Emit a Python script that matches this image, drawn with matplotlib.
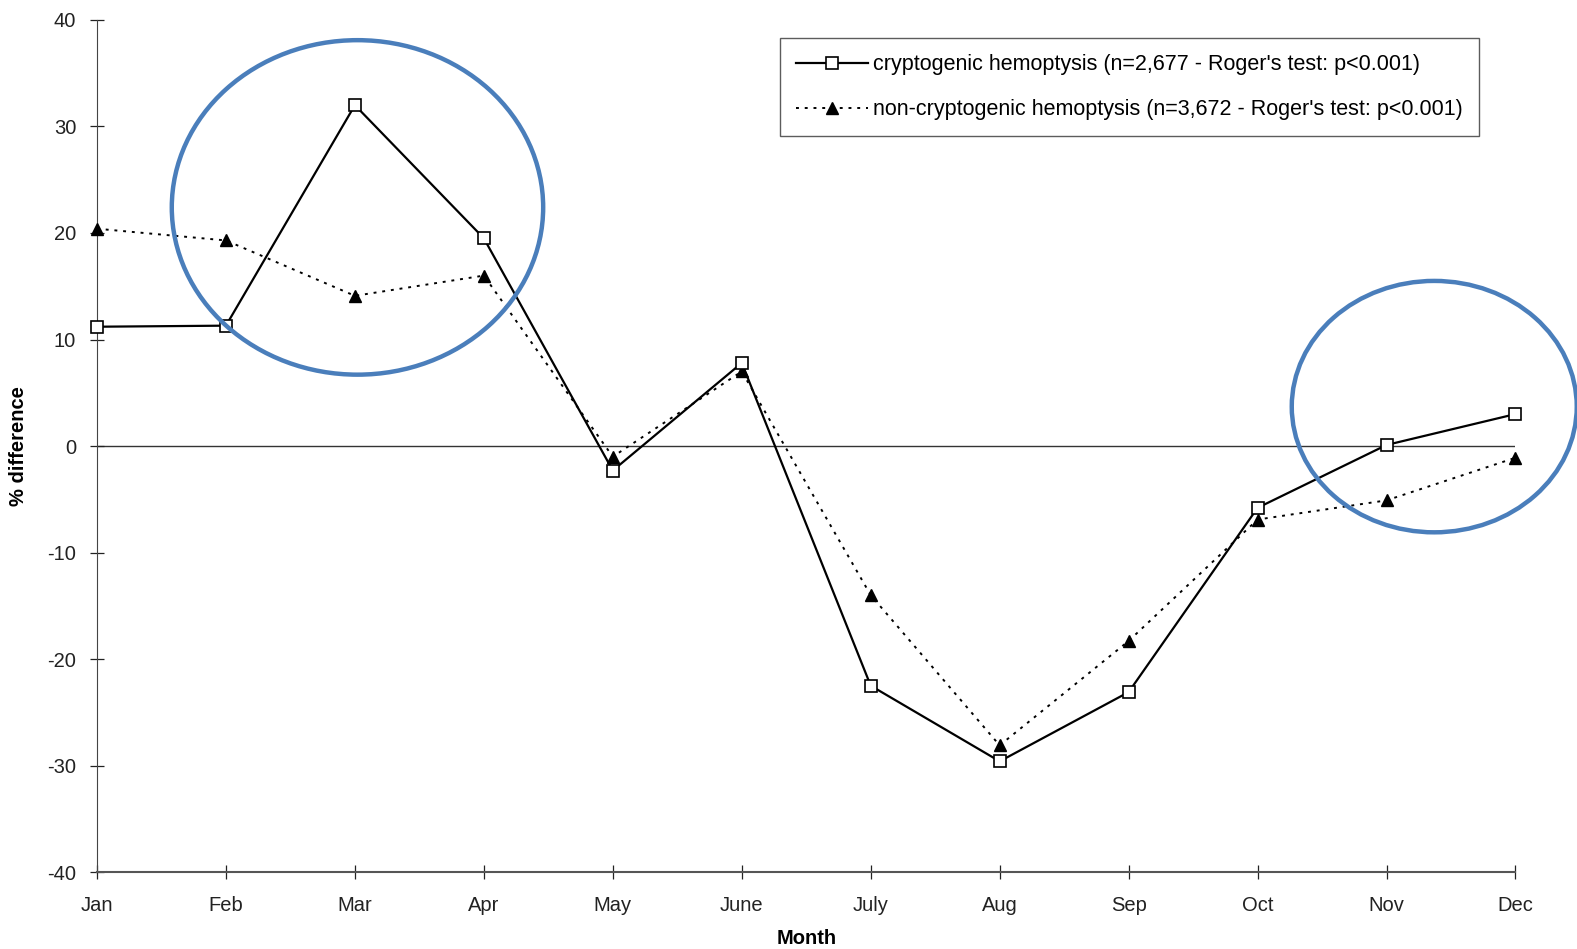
import matplotlib
matplotlib.use("Agg")
import matplotlib.pyplot as plt
from matplotlib.patches import Ellipse
import numpy as np

plt.rcParams["font.family"] = ["Liberation Sans", "DejaVu Sans"]
plt.rcParams["axes.unicode_minus"] = False

# === Data ===
months = ["Jan", "Feb", "Mar", "Apr", "May", "June", "July", "Aug", "Sep", "Oct", "Nov", "Dec"]
cryptogenic = [11.2, 11.3, 32.0, 19.5, -2.3, 7.8, -22.5, -29.6, -23.1, -5.8, 0.1, 3.0]
non_cryptogenic = [20.4, 19.3, 14.1, 16.0, -1.0, 7.0, -14.0, -28.1, -18.3, -6.9, -5.1, -1.1]
y_ticks = [-40, -30, -20, -10, 0, 10, 20, 30, 40]

label_crypto = "cryptogenic hemoptysis (n=2,677 - Roger's test: p<0.001)"
label_non = "non-cryptogenic hemoptysis (n=3,672 - Roger's test: p<0.001)"

# highlight rings: (center month index, center value, width in months, height in %)
rings = [(2.02, 22.4, 2.88, 31.4), (10.37, 3.7, 2.21, 23.6)]

x = np.arange(len(months))

fig = plt.figure(figsize=(15.77, 9.49), dpi=100)
ax = fig.add_axes([0.0615, 0.081, 0.8995, 0.898])

ax.axhline(0, color="#333333", lw=1.0, zorder=1)

ax.plot(x, cryptogenic, color="black", lw=1.6, marker="s", markersize=9,
        markerfacecolor="white", markeredgecolor="black", markeredgewidth=1.2,
        label=label_crypto, clip_on=False, zorder=4)
ax.plot(x, non_cryptogenic, color="black", lw=1.4, linestyle=(0, (1.5, 3)),
        marker="^", markersize=9, markerfacecolor="black", markeredgecolor="black",
        label=label_non, clip_on=False, zorder=3)

for cx, cy, w, h in rings:
    ax.add_patch(Ellipse((cx, cy), w, h, fill=False, edgecolor="#4a7ebb",
                         lw=3.2, clip_on=False, zorder=5))

ax.set_xlim(0, 11)
ax.set_ylim(-40, 40)
ax.set_xticks(x)
ax.set_xticklabels(months)
ax.set_yticks(y_ticks)

for side in ["top", "right"]:
    ax.spines[side].set_visible(False)
ax.spines["left"].set_color("#444444")
ax.spines["bottom"].set_color("#555555")
ax.spines["bottom"].set_linewidth(1.5)

ax.tick_params(axis="both", direction="inout", length=10, width=0.9,
               labelsize=14.5, colors="#222222")
ax.tick_params(axis="x", pad=12)
ax.tick_params(axis="y", pad=10)

ax.set_xlabel("Month", fontsize=14.5, fontweight="bold", labelpad=10)
ax.set_ylabel("% difference", fontsize=14.5, fontweight="bold", labelpad=14)

leg = ax.legend(loc="upper left", bbox_to_anchor=(0.4880, 0.971),
                bbox_transform=fig.transFigure, fontsize=15.5, frameon=True,
                fancybox=False, edgecolor="#333333", handlelength=3.3,
                labelspacing=1.1, borderpad=0.75, handletextpad=0.25)
leg.get_frame().set_linewidth(1.0)

fig.savefig("out.png", dpi=100, facecolor="white")
